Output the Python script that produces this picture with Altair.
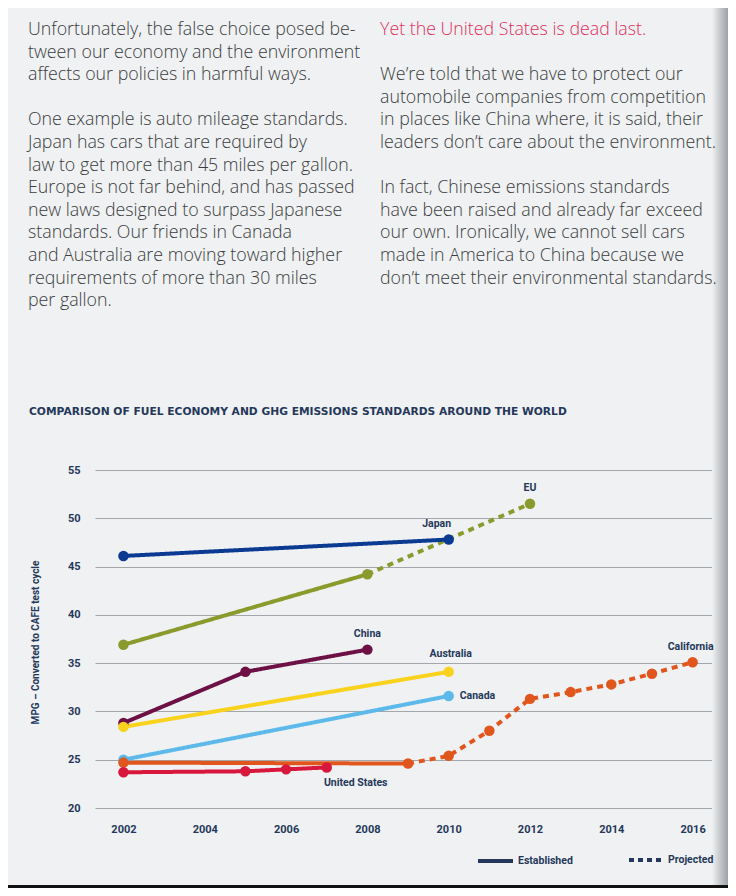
import altair as alt
import pandas as pd

# ---------------- text content ----------------
left_paras = [
    ["Unfortunately, the false choice posed be-",
     "tween our economy and the environment",
     "affects our policies in harmful ways."],
    ["One example is auto mileage standards.",
     "Japan has cars that are required by",
     "law to get more than 45 miles per gallon.",
     "Europe is not far behind, and has passed",
     "new laws designed to surpass Japanese",
     "standards. Our friends in Canada",
     "and Australia are moving toward higher",
     "requirements of more than 30 miles",
     "per gallon."],
]
right_paras = [
    ["Yet the United States is dead last."],
    ["We\u2019re told that we have to protect our",
     "automobile companies from competition",
     "in places like China where, it is said, their",
     "leaders don\u2019t care about the environment."],
    ["In fact, Chinese emissions standards",
     "have been raised and already far exceed",
     "our own. Ironically, we cannot sell cars",
     "made in America to China because we",
     "don\u2019t meet their environmental standards."],
]
chart_title = "COMPARISON OF FUEL ECONOMY AND GHG EMISSIONS STANDARDS AROUND THE WORLD"
y_title = "MPG \u2013 Converted to CAFE test cycle"

# ---------------- series data ----------------
countries = ["EU", "Japan", "China", "Australia", "Canada", "California", "United States"]
colors = ["#8a9a2c", "#0b3a92", "#6c1046", "#f9d21e", "#5cb9ea", "#e1561c", "#d8173d"]

est_years = {
    "Japan": [2002, 2010],
    "EU": [2002, 2008],
    "China": [2002, 2005, 2008],
    "Australia": [2002, 2010],
    "Canada": [2002, 2010],
    "United States": [2002, 2005, 2006, 2007],
    "California": [2002, 2009],
}
est_mpg = {
    "Japan": [46.1, 47.8],
    "EU": [36.9, 44.2],
    "China": [28.8, 34.1, 36.4],
    "Australia": [28.4, 34.1],
    "Canada": [25.0, 31.6],
    "United States": [23.7, 23.8, 24.0, 24.2],
    "California": [24.7, 24.6],
}
proj_years = {
    "EU": [2008, 2012],
    "California": [2009, 2010, 2011, 2012, 2013, 2014, 2015, 2016],
}
proj_mpg = {
    "EU": [44.2, 51.5],
    "California": [24.6, 25.4, 28.0, 31.3, 32.0, 32.8, 33.9, 35.1],
}
x_ticks = [2002, 2004, 2006, 2008, 2010, 2012, 2014, 2016]
y_ticks = [20, 25, 30, 35, 40, 45, 50, 55]

rows = []
for c in countries:
    for y, v in zip(est_years[c], est_mpg[c]):
        rows.append({"country": c, "year": y, "mpg": v, "status": "Established"})
    if c in proj_years:
        for y, v in zip(proj_years[c], proj_mpg[c]):
            rows.append({"country": c, "year": y, "mpg": v, "status": "Projected"})
df = pd.DataFrame(rows)
pts = df.drop_duplicates(subset=["country", "year"])

# ---------------- styles ----------------
BG = "#eff1f2"
INK = "#25385a"
BODY = "#3a3c40"
PINK = "#e02f5c"
LABEL_FONT = "Roboto"
BODY_FONT = "Open Sans"
OX, OY = 95, 470  # plot origin on the page (pixel offsets below are relative to it)
LINE_H = 22.6

x_enc = alt.X("year:Q",
              scale=alt.Scale(domain=[2001.3, 2016.6], nice=False, zero=False),
              axis=alt.Axis(values=x_ticks, format="d", grid=False, domain=False, ticks=False,
                            labelPadding=15, labelFontSize=11, labelFontWeight="bold",
                            labelColor=INK, labelFont=LABEL_FONT, title=None))
y_enc = alt.Y("mpg:Q",
              scale=alt.Scale(domain=[20, 55], nice=False, zero=False),
              axis=alt.Axis(values=y_ticks, grid=True, gridColor="#a3a7ab", gridWidth=1,
                            domain=False, ticks=False, labelPadding=15, labelFontSize=11,
                            labelFontWeight="bold", labelColor=INK, labelFont=LABEL_FONT,
                            title=y_title, titleFontSize=10, titleFontWeight="bold",
                            titleColor=INK, titleFont=LABEL_FONT, titleX=-60, titleY=172,
                            titleAngle=270, titleAlign="center", titleBaseline="middle"))
color_enc = alt.Color("country:N", scale=alt.Scale(domain=countries, range=colors), legend=None)

one = pd.DataFrame({"a": [0]})
shade = alt.Chart(one).mark_rect(
    color=alt.LinearGradient(gradient="linear",
                             stops=[alt.GradientStop(color=BG, offset=0),
                                    alt.GradientStop(color="#9da1a6", offset=1)],
                             x1=0, x2=1, y1=0, y2=0)
).encode(x=alt.value(712 - OX), x2=alt.value(728 - OX),
         y=alt.value(8 - OY), y2=alt.value(888 - OY))

lines = alt.Chart(df).mark_line(strokeWidth=4, strokeCap="butt").encode(
    x=x_enc, y=y_enc, color=color_enc,
    strokeDash=alt.StrokeDash("status:N",
                              scale=alt.Scale(domain=["Established", "Projected"],
                                              range=[[1, 0], [6, 5]]),
                              legend=None),
    detail="status:N",
)
points = alt.Chart(pts).mark_circle(size=110, opacity=1).encode(x="year:Q", y="mpg:Q", color=color_enc)

# series labels: (country label, anchor year, anchor value, dx, dy, align)
label_specs = [
    ("Japan", 2010, 47.8, -12, -16, "center"),
    ("EU", 2012, 51.5, 0, -16, "center"),
    ("China", 2008, 36.4, 0, -16, "center"),
    ("Australia", 2010, 34.1, 2, -18, "center"),
    ("Canada", 2010, 31.6, 11, 0, "left"),
    ("United States", 2007, 24.2, 29, 16, "center"),
    ("California", 2016, 35.1, -2, -15, "center"),
]
label_layers = []
for name, yr, val, dx, dy, al in label_specs:
    label_layers.append(
        alt.Chart(pd.DataFrame({"t": [name], "year": [yr], "mpg": [val]}))
        .mark_text(dx=dx, dy=dy, align=al, baseline="middle", fontSize=10.5,
                   fontWeight="bold", font=LABEL_FONT, color=INK)
        .encode(x="year:Q", y="mpg:Q", text="t:N")
    )


def para_layers(paras, px, first_color=None):
    out = []
    r = 0
    for pi, para in enumerate(paras):
        for line in para:
            col = first_color if (first_color and pi == 0) else BODY
            out.append(
                alt.Chart(pd.DataFrame({"t": [line]}))
                .mark_text(align="left", baseline="middle", fontSize=17.8, fontWeight=300,
                           font=BODY_FONT, color=col)
                .encode(text="t:N", x=alt.value(px - OX), y=alt.value(30 + LINE_H * r - OY))
            )
            r += 1
        r += 1
    return out


text_layers = para_layers(left_paras, 28) + para_layers(right_paras, 380, first_color=PINK)

title_layer = alt.Chart(pd.DataFrame({"t": [chart_title]})).mark_text(
    align="left", baseline="middle", fontSize=10.7, fontWeight="bold", font="DejaVu Sans",
    color=INK
).encode(text="t:N", x=alt.value(29 - OX), y=alt.value(412 - OY))

legend_layers = [
    alt.Chart(one).mark_rule(strokeWidth=4, color=INK, strokeCap="butt").encode(
        x=alt.value(478 - OX), x2=alt.value(513 - OX), y=alt.value(861 - OY)),
    alt.Chart(pd.DataFrame({"t": ["Established"]})).mark_text(
        align="left", baseline="middle", fontSize=10.5, fontWeight="bold", font=LABEL_FONT,
        color=INK).encode(text="t:N", x=alt.value(518 - OX), y=alt.value(861 - OY)),
    alt.Chart(one).mark_rule(strokeWidth=4, color=INK, strokeDash=[5, 4], strokeCap="butt").encode(
        x=alt.value(629 - OX), x2=alt.value(665 - OX), y=alt.value(860 - OY)),
    alt.Chart(pd.DataFrame({"t": ["Projected"]})).mark_text(
        align="left", baseline="middle", fontSize=10.5, fontWeight="bold", font=LABEL_FONT,
        color=INK).encode(text="t:N", x=alt.value(668 - OX), y=alt.value(860 - OY)),
]

bottom = alt.Chart(one).mark_rect(color="#111111").encode(
    x=alt.value(8 - OX), x2=alt.value(728 - OX), y=alt.value(885 - OY), y2=alt.value(888 - OY))

chart = alt.layer(
    lines, shade, points, *label_layers, *text_layers, title_layer, *legend_layers, bottom
).properties(
    width=622, height=338, autosize="none",
    padding={"left": 87, "top": 462, "right": 11, "bottom": 80},
    background=BG,
).configure_view(stroke=None)

chart.save("out.html", embed_options={"renderer": "svg", "actions": False})
